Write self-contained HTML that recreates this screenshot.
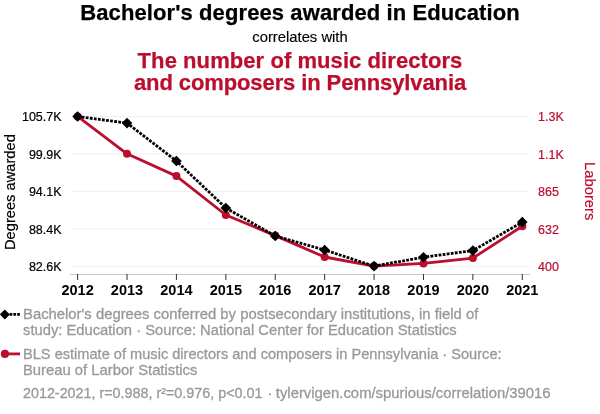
<!DOCTYPE html>
<html><head><meta charset="utf-8">
<style>
html,body{margin:0;padding:0;background:#fff;}
body{width:600px;height:414px;position:relative;overflow:hidden;will-change:transform;font-family:"Liberation Sans",sans-serif;}
.t{position:absolute;white-space:nowrap;line-height:1;}
#t1{left:0;width:600px;text-align:center;top:2px;font-size:22px;font-weight:bold;color:#000;-webkit-text-stroke:0.25px #000;letter-spacing:0.1px;}
#t2{left:0;width:600px;text-align:center;top:30px;font-size:14.8px;color:#000;-webkit-text-stroke:0.15px #000;}
.t3{left:0;width:600px;text-align:center;font-size:22px;font-weight:bold;color:#bb0e2e;line-height:21.5px;-webkit-text-stroke:0.25px #bb0e2e;}
.yl{position:absolute;font-size:12.5px;line-height:1;color:#000;text-align:right;width:59.6px;left:2px;white-space:nowrap;-webkit-text-stroke:0.2px #000;}
.yr{position:absolute;font-size:12.5px;line-height:1;color:#bb0e2e;left:538px;white-space:nowrap;-webkit-text-stroke:0.2px #bb0e2e;}
.xl{position:absolute;font-size:14.5px;line-height:1;font-weight:bold;color:#000;width:40px;text-align:center;}
.lg{position:absolute;left:23px;color:#999;line-height:16px;white-space:nowrap;-webkit-text-stroke:0.3px #999;}
</style></head><body>
<div class="t" id="t1">Bachelor's degrees awarded in Education</div>
<div class="t" id="t2">correlates with</div>
<div class="t t3" style="top:50px;letter-spacing:0.07px">The number of music directors</div>
<div class="t t3" style="top:71.5px;letter-spacing:-0.1px">and composers in Pennsylvania</div>
<svg width="600" height="414" style="position:absolute;left:0;top:0">

<g stroke="#efefef" stroke-width="1">
<line x1="71" x2="528" y1="116.4" y2="116.4"/>
<line x1="71" x2="528" y1="153.9" y2="153.9"/>
<line x1="71" x2="528" y1="191.4" y2="191.4"/>
<line x1="71" x2="528" y1="228.9" y2="228.9"/>
<line x1="71" x2="528" y1="266.4" y2="266.4"/>
</g>
<line x1="70" x2="530" y1="274.5" y2="274.5" stroke="#c8c8c8" stroke-width="1"/>
<g stroke="#333" stroke-width="1">
<line x1="77.6" x2="77.6" y1="274" y2="280"/>
<line x1="127.01" x2="127.01" y1="274" y2="280"/>
<line x1="176.42" x2="176.42" y1="274" y2="280"/>
<line x1="225.83" x2="225.83" y1="274" y2="280"/>
<line x1="275.24" x2="275.24" y1="274" y2="280"/>
<line x1="324.65" x2="324.65" y1="274" y2="280"/>
<line x1="374.06" x2="374.06" y1="274" y2="280"/>
<line x1="423.47" x2="423.47" y1="274" y2="280"/>
<line x1="472.88" x2="472.88" y1="274" y2="280"/>
<line x1="522.29" x2="522.29" y1="274" y2="280"/>
</g>
<polyline fill="none" stroke="#bb0e2e" stroke-width="2.8" stroke-linejoin="round" points="77.6,116.4 127.01,153.8 176.42,176.1 225.83,215 275.24,235.6 324.65,257 374.06,266.1 423.47,263.4 472.88,258.1 522.29,226.2"/>
<g fill="#bb0e2e">
<circle cx="77.6" cy="116.4" r="4"/>
<circle cx="127.01" cy="153.8" r="4"/>
<circle cx="176.42" cy="176.1" r="4"/>
<circle cx="225.83" cy="215" r="4"/>
<circle cx="275.24" cy="235.6" r="4"/>
<circle cx="324.65" cy="257" r="4"/>
<circle cx="374.06" cy="266.1" r="4"/>
<circle cx="423.47" cy="263.4" r="4"/>
<circle cx="472.88" cy="258.1" r="4"/>
<circle cx="522.29" cy="226.2" r="4"/>
</g>
<polyline fill="none" stroke="#000" stroke-width="2.8" stroke-dasharray="2.8,1.3" points="77.6,116.5 127.01,123.1 176.42,161 225.83,208 275.24,236 324.65,250 374.06,266.1 423.47,257.2 472.88,250.6 522.29,222.1"/>
<g fill="#000">
<path d="M77.6,111.2l5.3,5.3l-5.3,5.3l-5.3,-5.3z"/>
<path d="M127.01,117.8l5.3,5.3l-5.3,5.3l-5.3,-5.3z"/>
<path d="M176.42,155.7l5.3,5.3l-5.3,5.3l-5.3,-5.3z"/>
<path d="M225.83,202.7l5.3,5.3l-5.3,5.3l-5.3,-5.3z"/>
<path d="M275.24,230.7l5.3,5.3l-5.3,5.3l-5.3,-5.3z"/>
<path d="M324.65,244.7l5.3,5.3l-5.3,5.3l-5.3,-5.3z"/>
<path d="M374.06,260.8l5.3,5.3l-5.3,5.3l-5.3,-5.3z"/>
<path d="M423.47,251.9l5.3,5.3l-5.3,5.3l-5.3,-5.3z"/>
<path d="M472.88,245.3l5.3,5.3l-5.3,5.3l-5.3,-5.3z"/>
<path d="M522.29,216.8l5.3,5.3l-5.3,5.3l-5.3,-5.3z"/>
</g>
<line x1="9.6" x2="20" y1="314.4" y2="314.4" stroke="#000" stroke-width="2.7" stroke-dasharray="2.7,1.1"/>
<path d="M4.8,309.4l5,5l-5,5l-5,-5z" fill="#000"/>
<line x1="5" x2="20" y1="353.9" y2="353.9" stroke="#bb0e2e" stroke-width="2.8"/>
<circle cx="4.9" cy="353.9" r="4.1" fill="#bb0e2e"/>
<text x="0" y="0" transform="translate(15.2,192.1) rotate(-90)" text-anchor="middle" font-family="Liberation Sans" font-size="14.7" fill="#000" stroke="#000" stroke-width="0.2">Degrees awarded</text>
<text x="0" y="0" transform="translate(584.6,191.2) rotate(90)" text-anchor="middle" font-family="Liberation Sans" font-size="14.8" fill="#bb0e2e" stroke="#bb0e2e" stroke-width="0.2">Laborers</text>
</svg>
<div class="yl" style="top:111px">105.7K</div>
<div class="yr" style="top:111px">1.3K</div>
<div class="yl" style="top:148.5px">99.9K</div>
<div class="yr" style="top:148.5px">1.1K</div>
<div class="yl" style="top:186px">94.1K</div>
<div class="yr" style="top:186px">865</div>
<div class="yl" style="top:223.5px">88.4K</div>
<div class="yr" style="top:223.5px">632</div>
<div class="yl" style="top:261px">82.6K</div>
<div class="yr" style="top:261px">400</div>
<div class="xl" style="left:57.6px;top:282.6px">2012</div>
<div class="xl" style="left:107.01px;top:282.6px">2013</div>
<div class="xl" style="left:156.42px;top:282.6px">2014</div>
<div class="xl" style="left:205.83px;top:282.6px">2015</div>
<div class="xl" style="left:255.24px;top:282.6px">2016</div>
<div class="xl" style="left:304.65px;top:282.6px">2017</div>
<div class="xl" style="left:354.06px;top:282.6px">2018</div>
<div class="xl" style="left:403.47px;top:282.6px">2019</div>
<div class="xl" style="left:452.88px;top:282.6px">2020</div>
<div class="xl" style="left:502.29px;top:282.6px">2021</div>
<div class="lg" style="top:306px;font-size:14.83px">Bachelor's degrees conferred by postsecondary institutions, in field of</div>
<div class="lg" style="top:322px;font-size:14.75px">study: Education · Source: National Center for Education Statistics</div>
<div class="lg" style="top:346px;font-size:14.6px">BLS estimate of music directors and composers in Pennsylvania · Source:</div>
<div class="lg" style="top:362px;font-size:14.8px">Bureau of Larbor Statistics</div>
<div class="lg" style="top:385px;font-size:14.33px">2012-2021, r=0.988, r²=0.976, p&lt;0.01</div>
<div class="lg" style="top:385px;left:267.6px;font-size:14.6px">·</div>
<div class="lg" style="top:385px;left:275.8px;font-size:14.85px">tylervigen.com/spurious/correlation/39016</div>
</body></html>
